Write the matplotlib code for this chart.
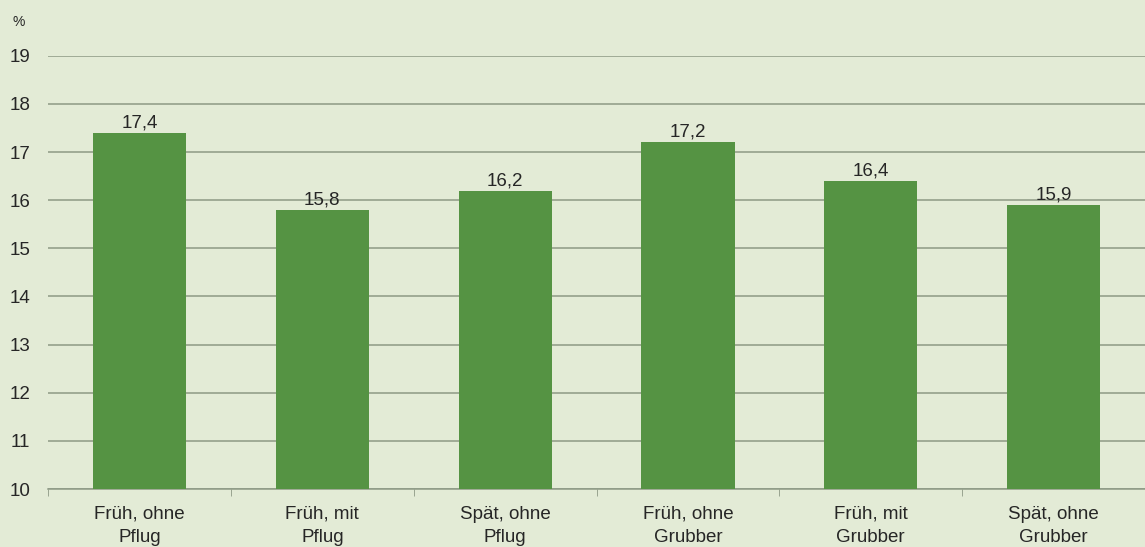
import numpy as np
import matplotlib
matplotlib.use("Agg")
import matplotlib.pyplot as plt

plt.rcParams['font.family'] = ['Liberation Sans', 'DejaVu Sans']

categories = ["Früh, ohne\nPflug", "Früh, mit\nPflug", "Spät, ohne\nPflug",
              "Früh, ohne\nGrubber", "Früh, mit\nGrubber", "Spät, ohne\nGrubber"]
values = [17.4, 15.8, 16.2, 17.2, 16.4, 15.9]
yticks = [10, 11, 12, 13, 14, 15, 16, 17, 18, 19]

bg = '#e3ebd6'
bar_col = '#559343'
grid_col = '#8d9985'
txt_col = '#262626'
fs = 13.5

fig = plt.figure(figsize=(11.45, 5.47), dpi=100, facecolor=bg)
ax = fig.add_axes([0.042, 0.106, 0.958, 0.792])
ax.set_facecolor(bg)

x = np.arange(len(categories))
ax.bar(x, values, width=0.51, bottom=0, color=bar_col, zorder=3)
for xi, v in zip(x, values):
    ax.text(xi, v + 0.03, ("%.1f" % v).replace(".", ","), ha='center', va='bottom',
            fontsize=fs, color=txt_col, zorder=4)

ax.set_ylim(10, 19)
ax.set_xlim(-0.5, len(categories) - 0.5)
ax.set_yticks(yticks)
ax.set_yticklabels([str(t) for t in yticks], fontsize=fs, color=txt_col)
ax.yaxis.grid(True, color=grid_col, linewidth=1.1, zorder=0)
ax.tick_params(axis='y', length=0, pad=13)

ax.set_xticks(x)
ax.set_xticklabels(categories, fontsize=fs, color=txt_col, linespacing=1.5)
ax.tick_params(axis='x', length=0, pad=12)
ax.set_xticks(np.arange(len(categories) + 1) - 0.5, minor=True)
ax.tick_params(axis='x', which='minor', length=5, color=grid_col, direction='out')

for s in ['left', 'right', 'top']:
    ax.spines[s].set_visible(False)
ax.spines['bottom'].set_color(grid_col)
ax.spines['bottom'].set_linewidth(1.1)

ax.text(-0.021, 1.078, "%", transform=ax.transAxes, ha='right', va='center',
        fontsize=10, color=txt_col)

fig.savefig("out.png", dpi=100, facecolor=bg)
